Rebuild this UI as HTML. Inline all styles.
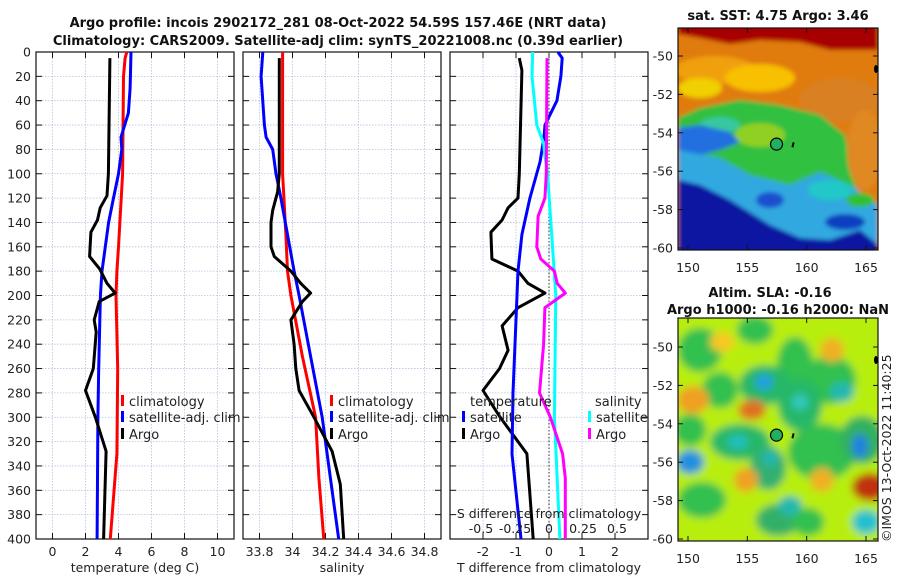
<!DOCTYPE html>
<html><head><meta charset="utf-8"><style>
html,body{margin:0;padding:0;background:#fff;width:900px;height:580px;overflow:hidden}
svg text{font-family:"DejaVu Sans","Liberation Sans",sans-serif;fill:#222}
.t{font-weight:bold;font-size:13px;fill:#111}
.tk{font-size:12.5px}
.lg{font-size:13px}
</style></head><body>
<svg id="c" width="900" height="580" xmlns="http://www.w3.org/2000/svg">
<text class="t" x="338" y="27" text-anchor="middle">Argo profile: incois 2902172_281 08-Oct-2022 54.59S 157.46E (NRT data)</text>
<text class="t" x="338" y="45" text-anchor="middle">Climatology: CARS2009. Satellite-adj clim: synTS_20221008.nc (0.39d earlier)</text>
<g id="plots"></g>
<g id="maps"></g>
<text class="tk" transform="translate(891,542) rotate(-90)">©IMOS 13-Oct-2022 11:40:25</text>
</svg>
<script>
// ---- data ----
const tempDepth = [5,100,118,128,138,148,168,178,190,198,205,220,230,260,278,300,328,400];
const tempArgo  = [3.48,3.39,3.3,2.89,2.73,2.33,2.25,2.85,3.3,3.8,2.83,2.53,2.65,2.47,2.0,2.6,3.25,3.1];
const climDepth = [0,5,20,100,160,180,200,260,330,400];
const tempClim  = [4.5,4.4,4.3,4.25,4.0,3.9,3.85,3.95,3.9,3.5];
const satDepth  = [0,30,50,70,80,100,120,140,160,180,200,260,300,400];
const tempSat   = [4.76,4.7,4.6,4.15,4.2,4.0,3.7,3.4,3.2,3.0,2.9,2.8,2.75,2.7];
const salDepth  = [5,100,115,130,140,160,168,180,190,198,205,220,240,260,278,300,328,355,400];
const salArgo   = [33.92,33.92,33.91,33.88,33.87,33.87,33.89,33.99,34.05,34.11,34.06,33.99,34.01,34.02,34.04,34.13,34.24,34.29,34.31];
const salClimDepth = [0,100,150,180,200,250,300,350,400];
const salClim   = [33.94,33.94,33.96,33.97,33.99,34.06,34.14,34.16,34.19];
const salSatDepth = [0,20,60,70,80,100,120,150,180,200,250,300,350,400];
const salSat    = [33.82,33.81,33.83,33.84,33.88,33.9,33.93,33.97,34.01,34.04,34.11,34.18,34.23,34.28];
const dtArgoDepth = [5,15,100,120,128,138,148,170,180,190,198,210,225,245,260,278,300,330,400];
const dtArgo    = [-0.9,-0.82,-0.9,-0.94,-1.24,-1.42,-1.76,-1.73,-0.94,-0.64,-0.12,-0.94,-1.42,-1.24,-1.5,-2.0,-1.48,-0.67,-0.48];
const dtSatDepth = [0,5,20,40,60,70,90,120,150,180,220,280,330,400];
const dtSat     = [0.27,0.4,0.36,0.24,-0.12,-0.15,-0.27,-0.58,-0.82,-0.94,-1.0,-1.09,-1.12,-0.85];
const dsSatDepth = [0,20,60,75,85,100,150,200,300,400];
const dsSat     = [-0.12,-0.125,-0.09,-0.04,-0.03,-0.01,0.02,0.05,0.04,0.08];
const dsArgoDepth = [5,100,120,135,160,170,180,190,198,210,240,280,300,330,350,400];
const dsArgo    = [-0.015,-0.02,-0.03,-0.08,-0.09,-0.06,0.04,0.06,0.12,-0.03,-0.04,-0.07,0.01,0.1,0.12,0.12];
const depthTicks = [0,20,40,60,80,100,120,140,160,180,200,220,240,260,280,300,320,340,360,380,400];
const tTicks = [0,2,4,6,8,10];
const sTicks = [33.8,34,34.2,34.4,34.6,34.8];
const sTickLabels = ["33.8","34","34.2","34.4","34.6","34.8"];
const dtTicks = [-2,-1,0,1,2];
const dsTicks = [-0.5,-0.25,0,0.25,0.5];
const dsTickLabels = ["-0.5","-0.25","0","0.25","0.5"];

const NS="http://www.w3.org/2000/svg";
function mk(tag,attrs,parent){const e=document.createElementNS(NS,tag);for(const k in attrs)e.setAttribute(k,attrs[k]);parent.appendChild(e);return e;}
const Y0=52,Y1=539;
const yOf=d=>Y0+(d/400)*(Y1-Y0);
const plots=document.getElementById('plots');
function panel(x0,x1,xmin,xmax,ticks,labels,xlabel,name,leftLabels){
  const g=mk('g',{},plots);
  
  
  const xs=v=>x0+(v-xmin)/(xmax-xmin)*(x1-x0);
  depthTicks.forEach(d=>{
    const y=yOf(d);
    if(d>0&&d<400)mk('line',{x1:x0,x2:x1,y1:y,y2:y,stroke:'#b8c0e0','stroke-width':0.8,'stroke-dasharray':'1.5,1.5'},g);
    mk('line',{x1:x0,x2:x0+6,y1:y,y2:y,stroke:'#111'},g);
    mk('line',{x1:x1-6,x2:x1,y1:y,y2:y,stroke:'#111'},g);
    if(leftLabels){const t=mk('text',{x:x0-5,y:y+4.5,'text-anchor':'end',class:'tk'},g);t.textContent=d;}
  });
  ticks.forEach((v,i)=>{
    const x=xs(v);
    mk('line',{x1:x,x2:x,y1:Y0,y2:Y1,stroke:'#b8c0e0','stroke-width':0.8,'stroke-dasharray':'1.5,1.5'},g);
    mk('line',{x1:x,x2:x,y1:Y1,y2:Y1-6,stroke:'#111'},g);
    mk('line',{x1:x,x2:x,y1:Y0,y2:Y0+6,stroke:'#111'},g);
    const t=mk('text',{x:x,y:556,'text-anchor':'middle',class:'tk'},g);t.textContent=labels[i];
  });
  mk('rect',{x:x0,y:Y0,width:x1-x0,height:Y1-Y0,fill:'none',stroke:'#111','stroke-width':1.2},g);
  const xl=mk('text',{x:(x0+x1)/2,y:572,'text-anchor':'middle',class:'tk'},g);
  
  
  xl.textContent=xlabel;
  return {g,xs};
}
function line(p,xsFn,depths,vals,color,name){
  const pts=depths.map((d,i)=>xsFn(vals[i]).toFixed(1)+','+yOf(d).toFixed(1)).join(' ');
  const e=mk('polyline',{points:pts,fill:'none',stroke:color,'stroke-width':3,'stroke-linejoin':'round'},p.g);
  
  
}
function legend(g,x,y,color,label,name){
  const lg=mk('g',{},g);
  
  
  mk('rect',{x:x,y:y-11,width:3,height:11,fill:color},lg);
  const t=mk('text',{x:x+8,y:y,class:'lg'},lg);t.textContent=label;
}
const p1=panel(36,234,-1,11,tTicks,tTicks.map(String),'temperature (deg C)','temperature-panel',true);
line(p1,p1.xs,climDepth,tempClim,'#f00','temp-climatology-line');
line(p1,p1.xs,satDepth,tempSat,'#00f','temp-satellite-adj-line');
line(p1,p1.xs,tempDepth,tempArgo,'#000','temp-argo-line');
legend(p1.g,121,406,'#f00','climatology','legend-climatology');
legend(p1.g,121,422,'#00f','satellite-adj. clim','legend-satellite-adj');
legend(p1.g,121,439,'#000','Argo','legend-argo');

const p2=panel(243,441,33.7,34.9,sTicks,sTickLabels,'salinity','salinity-panel',false);
line(p2,p2.xs,salClimDepth,salClim,'#f00','sal-climatology-line');
line(p2,p2.xs,salSatDepth,salSat,'#00f','sal-satellite-adj-line');
line(p2,p2.xs,salDepth,salArgo,'#000','sal-argo-line');
legend(p2.g,330,406,'#f00','climatology','legend-climatology-2');
legend(p2.g,330,422,'#00f','satellite-adj. clim','legend-satellite-adj-2');
legend(p2.g,330,439,'#000','Argo','legend-argo-2');

const p3=panel(450,648,-3,3,dtTicks,dtTicks.map(String),'T difference from climatology','difference-panel',false);
const dsx=v=>549+v*136;
mk('line',{x1:549,x2:549,y1:Y0,y2:Y1,stroke:'#555','stroke-width':1.2,'stroke-dasharray':'1.5,2'},p3.g);
line(p3,p3.xs,dtArgoDepth,dtArgo,'#000','dt-argo-line');
line(p3,p3.xs,dtSatDepth,dtSat,'#00f','dt-satellite-line');
line(p3,dsx,dsSatDepth,dsSat,'#0ff','ds-satellite-line');
line(p3,dsx,dsArgoDepth,dsArgo,'#f0f','ds-argo-line');
{const t=mk('text',{x:470,y:406,class:'lg'},p3.g);t.textContent='temperature';
 const t2=mk('text',{x:595,y:406,class:'lg'},p3.g);t2.textContent='salinity';}
legend(p3.g,462,422,'#00f','satellite','legend-t-satellite');
legend(p3.g,462,439,'#000','Argo','legend-t-argo');
legend(p3.g,588,422,'#0ff','satellite','legend-s-satellite');
legend(p3.g,588,439,'#f0f','Argo','legend-s-argo');
{const t=mk('text',{x:549,y:518,'text-anchor':'middle',class:'tk'},p3.g);t.textContent='S difference from climatology';
 
 
 dsTicks.forEach((v,i)=>{const e=mk('text',{x:dsx(v),y:533,'text-anchor':'middle',class:'tk'},p3.g);e.textContent=dsTickLabels[i];});}

// ---- maps ----
const lonTicks=[150,155,160,165];
const latTicks=[-50,-52,-54,-56,-58,-60];
const maps=document.getElementById('maps');
function mapPanel(top,bot,lat50,lat60,name,shapes){
  const g=mk('g',{},maps);
  
  
  const L=678,R=878;
  const lx=v=>688+(v-150)*(866-688)/15;
  const ly=v=>lat50+(v+50)/(-10)*(lat60-lat50);
  const cid=name+'-clip';
  const defs=mk('defs',{},g);
  const cp=mk('clipPath',{id:cid},defs);
  mk('rect',{x:L,y:top,width:R-L,height:ly(-60.1)-top},cp);
  const f=mk('filter',{id:name+'-blur',x:'-20%',y:'-20%',width:'140%',height:'140%'},defs);
  mk('feGaussianBlur',{stdDeviation:shapes.blur},f);
  const inner=mk('g',{'clip-path':'url(#'+cid+')'},g);
  const ig=mk('g',{filter:'url(#'+name+'-blur)'},inner);
  mk('rect',{x:L-20,y:top-20,width:R-L+40,height:bot-top+40,fill:shapes.bg},ig);
  shapes.items.forEach(s=>{
    if(s[0]==='e')mk('ellipse',{cx:s[1],cy:s[2],rx:s[3],ry:s[4],fill:s[5]},ig);
    else mk('polygon',{points:s[1],fill:s[2]},ig);
  });
  latTicks.forEach(v=>{const y=ly(v);
    mk('line',{x1:L,x2:L+5,y1:y,y2:y,stroke:'#111'},g);mk('line',{x1:R-5,x2:R,y1:y,y2:y,stroke:'#111'},g);
    const t=mk('text',{x:L-5,y:y+4.5,'text-anchor':'end',class:'tk'},g);t.textContent=v;});
  lonTicks.forEach(v=>{const x=lx(v);
    mk('line',{x1:x,x2:x,y1:bot,y2:bot-5,stroke:'#111'},g);mk('line',{x1:x,x2:x,y1:top,y2:top+5,stroke:'#111'},g);
    const t=mk('text',{x:x,y:bot+22,'text-anchor':'middle',class:'tk'},g);t.textContent=v;});
  mk('rect',{x:L,y:top,width:R-L,height:bot-top,fill:'none',stroke:'#111','stroke-width':1.2},g);
  const c=mk('circle',{cx:lx(157.46),cy:ly(-54.59),r:6,fill:'#20b060',stroke:'#000','stroke-width':1.2},g);
  
  
  mk('line',{x1:lx(158.9),x2:lx(158.8),y1:ly(-54.5),y2:ly(-54.75),stroke:'#000','stroke-width':2},g);
  mk('ellipse',{cx:876,cy:lat50+13,rx:2,ry:4,fill:'#000'},g);
}
mapPanel(28,250,56,248,'sst-map',{blur:2,bg:'#e07c10',items:[
 ['p','678,20 878,20 878,50 830,50 800,42 760,40 730,44 700,38 678,34','#a80000'],
 ['e',715,70,40,14,'#f0a010'],['e',760,78,35,14,'#f8c000'],['e',700,88,22,10,'#f0d000'],
 ['e',840,100,40,22,'#d88020'],
 ['p','678,118 700,108 740,100 780,105 820,115 845,135 850,165 858,195 878,205 878,260 678,260','#30c040'],
 ['e',760,135,25,12,'#90d020'],['e',720,125,20,8,'#38c8a0'],
 ['p','678,128 700,125 730,132 740,142 720,150 700,155 678,150','#2070e0'],
 ['p','678,150 720,158 750,175 790,185 820,172 850,185 878,205 878,260 678,260','#30a8e0'],
 ['e',830,190,22,10,'#20c8c8'],['e',860,200,14,7,'#30c030'],
 ['p','678,180 700,185 730,200 770,225 800,238 830,240 860,230 878,245 878,260 678,260','#0818a0'],
 ['e',845,222,20,8,'#1040c0'],['e',770,200,14,8,'#1a50d0'],
 ['e',865,150,18,40,'#e08820']
]});
mapPanel(318,541,347,539,'sla-map',{blur:4,bg:'#b8ee10',items:[
 ['e',700,350,22,22,'#30c050'],['e',755,330,18,14,'#30c050'],['e',795,365,18,28,'#30c050'],
 ['e',765,385,26,20,'#28b868'],['e',764,382,9,8,'#20a0e0'],
 ['e',720,390,18,18,'#30c050'],['e',830,380,26,24,'#30c050'],['e',842,392,12,10,'#20b8b0'],
 ['e',800,405,22,26,'#28b868'],['e',800,402,8,8,'#30c8c0'],
 ['e',693,400,16,14,'#f0a020'],['e',752,410,14,10,'#e07020'],
 ['e',740,442,30,18,'#28b868'],['e',738,442,10,7,'#20c0c0'],
 ['e',690,462,14,12,'#2090e0'],['e',768,468,18,22,'#30b070'],['e',770,458,8,8,'#20b8b0'],
 ['e',822,452,34,28,'#30c050'],['e',862,440,22,24,'#30b060'],['e',860,446,8,12,'#2080e0'],
 ['e',702,500,24,18,'#30c050'],['e',778,520,22,16,'#30b068'],['e',790,506,12,10,'#20b8b0'],
 ['e',746,480,12,12,'#f0a020'],['e',822,480,12,12,'#f0b020'],
 ['e',870,487,18,14,'#c03010'],['e',866,522,14,12,'#20c0d0'],
 ['e',722,342,12,10,'#f8c820'],['e',832,350,12,12,'#f0b020'],['e',808,522,16,14,'#30c050'],
 ['e',690,430,16,16,'#30c050']
]});
{const add=(x,y,s)=>{const t=mk('text',{x:x,y:y,'text-anchor':'middle',class:'t'},maps);t.textContent=s;return t;};
 add(778,20,'sat. SST: 4.75 Argo: 3.46');
 add(770,297,'Altim. SLA: -0.16');
 add(778,314,'Argo h1000: -0.16 h2000: NaN');}
</script>
</body></html>
